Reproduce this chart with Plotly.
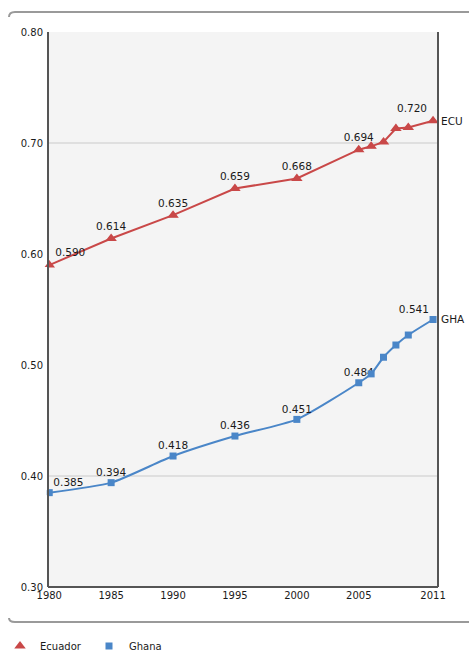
import plotly.graph_objects as go

years = [1980, 1985, 1990, 1995, 2000, 2005, 2006, 2007, 2008, 2009, 2011]
ecuador = [0.590, 0.614, 0.635, 0.659, 0.668, 0.694, 0.697, 0.701, 0.713, 0.714, 0.720]
ghana = [0.385, 0.394, 0.418, 0.436, 0.451, 0.484, 0.492, 0.507, 0.518, 0.527, 0.541]
label_years = [1980, 1985, 1990, 1995, 2000, 2005, 2011]
series_names = ["Ecuador", "Ghana"]
series_codes = ["ECU", "GHA"]
x_ticks = [1980, 1985, 1990, 1995, 2000, 2005, 2011]
y_ticks = [0.30, 0.40, 0.50, 0.60, 0.70, 0.80]
grid_values = [0.40, 0.70]

RED = "#c94848"
BLUE = "#4a86c8"
FONT = "DejaVu Sans"
TXT = "#1a1a1a"

W, H = 469, 652
L, R, T, B = 48, 31, 32, 65
PW, PH = W - L - R, H - T - B


def px(x):
    return (x - L) / PW


def py(y):
    return (H - B - y) / PH


def labels(vals):
    return [f"{v:.3f}" if yr in label_years else "" for yr, v in zip(years, vals)]


def positions():
    out = []
    for i, yr in enumerate(years):
        if i == 0:
            out.append("top right")
        elif i == len(years) - 1:
            out.append("top left")
        else:
            out.append("top center")
    return out


fig = go.Figure()
for vals, color, sym, size, shape, name in [
    (ecuador, RED, "triangle-up", 8, "linear", series_names[0]),
    (ghana, BLUE, "square", 5, "spline", series_names[1]),
]:
    fig.add_trace(go.Scatter(
        x=years, y=vals, mode="lines+markers+text",
        line=dict(color=color, width=2, shape=shape, smoothing=0.6),
        marker=dict(symbol=sym, size=size, color=color),
        text=labels(vals), textposition=positions(),
        textfont=dict(family=FONT, size=10.5, color=TXT),
        cliponaxis=False, showlegend=False, hoverinfo="skip",
    ))
    fig.add_trace(go.Scatter(
        x=years, y=vals, mode="markers", name=name,
        marker=dict(symbol=sym, size=size + 2, color=color),
        showlegend=True, hoverinfo="skip",
    ))

annotations = []
for vals, code in [(ecuador, series_codes[0]), (ghana, series_codes[1])]:
    annotations.append(dict(
        x=years[-1], y=vals[-1], xref="x", yref="y", text=code,
        showarrow=False, xanchor="left", yanchor="middle", xshift=6,
        font=dict(family=FONT, size=10.5, color=TXT),
    ))

shapes = []
for g in grid_values:
    shapes.append(dict(type="line", xref="paper", yref="y", x0=0, x1=1, y0=g, y1=g,
                       line=dict(color="#d8d8d8", width=1.5), layer="below"))
# plot frame (left, right, bottom)
for x0, y0, x1, y1 in [(0, 0, 0, 1), (1, 0, 1, 1), (0, 0, 1, 0)]:
    shapes.append(dict(type="line", xref="paper", yref="paper", x0=x0, y0=y0, x1=x1, y1=y1,
                       line=dict(color="#555", width=2)))
# outer rounded container lines (top and bottom)
top_y, bot_y, lx = 12, 622, 9
shapes.append(dict(type="path", xref="paper", yref="paper",
                   path=f"M {px(lx)},{py(top_y+5)} Q {px(lx)},{py(top_y)} {px(lx+6)},{py(top_y)} L {px(W+5)},{py(top_y)}",
                   line=dict(color="#9a9a9a", width=2)))
shapes.append(dict(type="path", xref="paper", yref="paper",
                   path=f"M {px(lx)},{py(bot_y-4)} Q {px(lx)},{py(bot_y)} {px(lx+6)},{py(bot_y)} L {px(W+5)},{py(bot_y)}",
                   line=dict(color="#9a9a9a", width=2)))

fig.update_layout(
    width=W, height=H,
    margin=dict(l=L, r=R, t=T, b=B, autoexpand=False),
    paper_bgcolor="white", plot_bgcolor="#f4f4f4",
    font=dict(family=FONT, size=10, color=TXT),
    xaxis=dict(range=[1979.9, 2011.4], tickvals=x_ticks, showgrid=False, zeroline=False,
               showline=False, ticks="", automargin=False, ticklabelstandoff=1,
               tickfont=dict(family=FONT, size=10, color=TXT)),
    yaxis=dict(range=[0.30, 0.80], tickvals=y_ticks, tickformat=".2f", showgrid=False,
               zeroline=False, showline=False, ticks="", automargin=False,
               ticklabelstandoff=4,
               tickfont=dict(family=FONT, size=10, color=TXT)),
    legend=dict(orientation="h", x=px(0), y=py(646), yanchor="middle", xanchor="left",
                font=dict(family=FONT, size=10, color=TXT), itemwidth=30,
                entrywidth=44, bgcolor="rgba(0,0,0,0)"),
    shapes=shapes, annotations=annotations,
)

fig.write_html("out.html")
